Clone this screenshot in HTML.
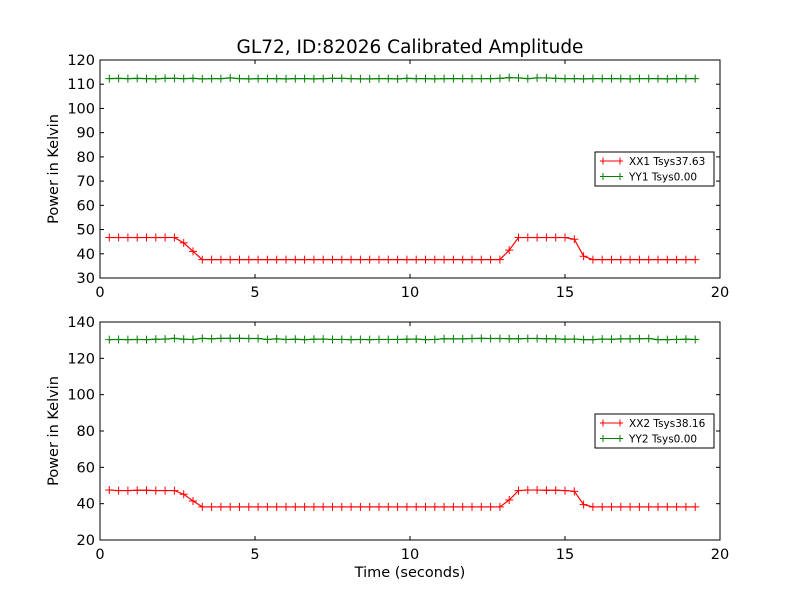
<!DOCTYPE html>
<html><head><meta charset="utf-8"><style>body{margin:0;background:#fff}svg{display:block;font-family:"DejaVu Sans","Liberation Sans",sans-serif}</style></head>
<body>
<svg id="chart" width="800" height="600" viewBox="0 0 800 600"></svg>
<script>
const xValues = Array.from({length:64},(_,i)=>+(0.3*(i+1)).toFixed(2));
const xx1 = [46.7,46.7,46.7,46.7,46.7,46.7,46.7,46.7,44.5,41.0,
37.6,37.6,37.6,37.6,37.6,37.6,37.6,37.6,37.6,37.6,37.6,37.6,37.6,37.6,37.6,37.6,37.6,37.6,37.6,37.6,37.6,37.6,37.6,37.6,37.6,37.6,37.6,37.6,37.6,37.6,37.6,37.6,37.6,
41.5,46.7,46.7,46.7,46.7,46.7,46.7,46.0,39.0,
37.6,37.6,37.6,37.6,37.6,37.6,37.6,37.6,37.6,37.6,37.6,37.6];
const yy1 = [112.3,112.4,112.3,112.4,112.3,112.2,112.4,112.4,112.3,112.4,112.2,112.3,112.3,112.6,112.3,112.2,112.3,112.3,112.3,112.2,112.3,112.3,112.2,112.3,112.4,112.4,112.3,112.2,112.2,112.3,112.3,112.2,112.4,112.3,112.3,112.2,112.3,112.3,112.3,112.3,112.3,112.3,112.4,112.7,112.6,112.3,112.6,112.6,112.4,112.3,112.3,112.2,112.3,112.3,112.3,112.3,112.2,112.3,112.3,112.3,112.2,112.3,112.3,112.3];
const xx2 = [47.5,47.2,47.2,47.4,47.4,47.2,47.2,47.2,45.2,41.5,
38.2,38.2,38.2,38.2,38.2,38.2,38.2,38.2,38.2,38.2,38.2,38.2,38.2,38.2,38.2,38.2,38.2,38.2,38.2,38.2,38.2,38.2,38.2,38.2,38.2,38.2,38.2,38.2,38.2,38.2,38.2,38.2,38.2,
42.0,47.2,47.5,47.5,47.4,47.4,47.2,46.8,39.5,
38.2,38.2,38.2,38.2,38.2,38.2,38.2,38.2,38.2,38.2,38.2,38.2];
const yy2 = [130.3,130.4,130.3,130.4,130.3,130.5,130.6,131.0,130.5,130.4,131.0,130.8,131.0,131.0,131.0,130.9,130.9,130.4,130.7,130.4,130.5,130.3,130.5,130.6,130.4,130.4,130.3,130.4,130.3,130.4,130.4,130.4,130.5,130.6,130.3,130.4,130.8,130.7,130.7,130.9,131.0,130.9,130.9,130.8,130.8,130.9,130.9,130.8,130.7,130.5,130.6,130.3,130.3,130.6,130.5,130.7,130.7,130.8,130.9,130.3,130.3,130.4,130.5,130.4];
const xTicks = [0,5,10,15,20];
const yTicksTop = [30,40,50,60,70,80,90,100,110,120];
const yTicksBot = [20,40,60,80,100,120,140];

const svg = document.getElementById('chart');
const NS = 'http://www.w3.org/2000/svg';
function mk(tag, attrs, parent, text){const e=document.createElementNS(NS,tag);for(const k in attrs)e.setAttribute(k,attrs[k]);if(text!==undefined)e.textContent=text;(parent||svg).appendChild(e);return e;}

function panel(top, bottom, ymin, ymax, yTicks, s1, s2, lab1, lab2, legTop, name, showX){
  const g = mk('g',{});
  
  
  const L=100,R=720;
  const xs = v => L + (v-0)/(20-0)*(R-L);
  const ys = v => bottom - (v-ymin)/(ymax-ymin)*(bottom-top);
  xTicks.forEach(t=>{
    mk('line',{x1:xs(t),x2:xs(t),y1:bottom,y2:bottom-4,stroke:'#000'},g);
    mk('line',{x1:xs(t),x2:xs(t),y1:top,y2:top+4,stroke:'#000'},g);
    const tx=mk('text',{x:xs(t),y:bottom+19,'text-anchor':'middle','font-size':'14.5'},g,String(t));
    
    
  });
  yTicks.forEach(t=>{
    mk('line',{x1:L,x2:L+4,y1:ys(t),y2:ys(t),stroke:'#000'},g);
    mk('line',{x1:R,x2:R-4,y1:ys(t),y2:ys(t),stroke:'#000'},g);
    const tx=mk('text',{x:L-5,y:ys(t)+5,'text-anchor':'end','font-size':'14.5'},g,String(t));
    
    
  });
  [[s1,'#ff0000','xx-series'],[s2,'#008000','yy-series']].forEach(([s,c,nm])=>{
    const sg=mk('g',{},g);
    
    
    mk('polyline',{points:s.map((v,i)=>xs(xValues[i])+','+ys(v)).join(' '),fill:'none',stroke:c,'stroke-width':1.2},sg);
    s.forEach((v,i)=>{const x=xs(xValues[i]),y=ys(v);
      mk('path',{d:`M${x-4},${y}H${x+4}M${x},${y-4}V${y+4}`,stroke:c,'stroke-width':1},sg);});
  });
  mk('rect',{x:L,y:top,width:R-L,height:bottom-top,fill:'none',stroke:'#000','stroke-width':1},g);
  const yl=mk('text',{x:0,y:0,transform:`translate(58,${(top+bottom)/2}) rotate(-90)`,'text-anchor':'middle','font-size':'14.5'},g,'Power in Kelvin');
  
  
  const lg=mk('g',{},g);
  
  
  mk('rect',{x:595,y:legTop,width:119,height:34,fill:'#fff',stroke:'#000'},lg);
  [[lab1,'#ff0000'],[lab2,'#008000']].forEach(([t,c],k)=>{
    const y=legTop+9+k*15.5;
    mk('path',{d:`M600,${y}H623M603,${y-3.5}V${y+3.5}M620,${y-3.5}V${y+3.5}`,stroke:c},lg);
    const tx=mk('text',{x:629,y:y+4,'font-size':'10.5'},lg,t);
    
    
  });
}
panel(60,278,30,120,yTicksTop,xx1,yy1,'XX1 Tsys37.63','YY1 Tsys0.00',152,'top-panel');
panel(322,540,20,140,yTicksBot,xx2,yy2,'XX2 Tsys38.16','YY2 Tsys0.00',414,'bottom-panel');
const title=mk('text',{x:410,y:53,'text-anchor':'middle','font-size':'18.5'},svg,'GL72, ID:82026 Calibrated Amplitude');


const xt=mk('text',{x:410,y:577,'text-anchor':'middle','font-size':'14.5'},svg,'Time (seconds)');


</script>
</body></html>
